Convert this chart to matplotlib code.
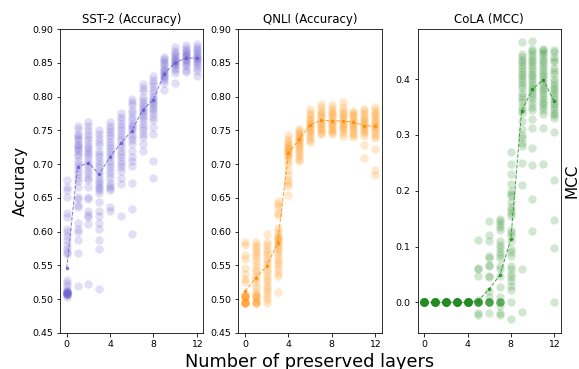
#Imports
import matplotlib
matplotlib.use('Agg')
import matplotlib.pyplot as plt

#Data

layers = [0, 1, 2, 3, 4, 5, 6, 7, 8, 9, 10, 11, 12]

# SST-2 accuracy of every run, one list per number of preserved layers
sst2_runs = [
    [0.677, 0.666, 0.662, 0.651, 0.627, 0.621, 0.604, 0.599, 0.594, 0.588, 0.580, 0.575, 0.570, 0.567,
     0.528, 0.524, 0.519, 0.514, 0.512, 0.511, 0.510, 0.510, 0.509, 0.509, 0.508, 0.508, 0.508, 0.507, 0.506, 0.504],
    [0.756, 0.752, 0.745, 0.742, 0.738, 0.735, 0.730, 0.728, 0.725, 0.722, 0.720, 0.715, 0.712, 0.705, 0.700,
     0.695, 0.690, 0.685, 0.680, 0.675, 0.666, 0.652, 0.648, 0.640, 0.636, 0.613, 0.604, 0.600, 0.588, 0.569, 0.519],
    [0.762, 0.757, 0.750, 0.745, 0.740, 0.735, 0.730, 0.725, 0.722, 0.718, 0.715, 0.710, 0.705, 0.700,
     0.695, 0.690, 0.685, 0.680, 0.676, 0.666, 0.651, 0.649, 0.630, 0.625, 0.621, 0.611, 0.522],
    [0.750, 0.745, 0.738, 0.733, 0.728, 0.720, 0.715, 0.710, 0.705, 0.700, 0.695, 0.690, 0.685, 0.680,
     0.675, 0.672, 0.668, 0.665, 0.662, 0.657, 0.644, 0.630, 0.623, 0.613, 0.604, 0.588, 0.575, 0.515],
    [0.762, 0.757, 0.752, 0.748, 0.743, 0.738, 0.733, 0.728, 0.724, 0.720, 0.715, 0.710, 0.705, 0.700,
     0.695, 0.690, 0.685, 0.680, 0.672, 0.668, 0.665, 0.662, 0.636, 0.630],
    [0.775, 0.770, 0.765, 0.760, 0.755, 0.750, 0.745, 0.740, 0.735, 0.730, 0.725, 0.720, 0.715, 0.710,
     0.705, 0.700, 0.695, 0.690, 0.680, 0.670, 0.623],
    [0.797, 0.792, 0.787, 0.780, 0.775, 0.770, 0.765, 0.760, 0.757, 0.753, 0.750, 0.745, 0.740, 0.735,
     0.730, 0.720, 0.710, 0.705, 0.697, 0.672, 0.634, 0.597],
    [0.818, 0.813, 0.808, 0.800, 0.795, 0.790, 0.787, 0.783, 0.780, 0.777, 0.773, 0.770, 0.765, 0.760,
     0.755, 0.750, 0.745, 0.740, 0.730, 0.720],
    [0.830, 0.825, 0.820, 0.815, 0.810, 0.805, 0.800, 0.797, 0.793, 0.790, 0.787, 0.783, 0.780, 0.775,
     0.770, 0.765, 0.755, 0.745, 0.704, 0.680],
    [0.858, 0.855, 0.852, 0.849, 0.846, 0.843, 0.840, 0.838, 0.835, 0.832, 0.830, 0.827, 0.824, 0.820, 0.810],
    [0.873, 0.868, 0.864, 0.861, 0.858, 0.856, 0.854, 0.852, 0.850, 0.848, 0.846, 0.843, 0.840, 0.835, 0.820],
    [0.876, 0.872, 0.869, 0.866, 0.864, 0.862, 0.860, 0.858, 0.856, 0.854, 0.851, 0.848, 0.845, 0.840, 0.837],
    [0.878, 0.874, 0.870, 0.867, 0.864, 0.861, 0.859, 0.857, 0.855, 0.852, 0.850, 0.847, 0.843, 0.838, 0.830],
]
sst2_mean = [0.546, 0.696, 0.702, 0.685, 0.711, 0.731, 0.749, 0.780, 0.795, 0.834, 0.850, 0.857, 0.857]

# QNLI accuracy
qnli_runs = [
    [0.584, 0.580, 0.565, 0.560, 0.546, 0.537, 0.530, 0.525, 0.507, 0.505, 0.505, 0.505, 0.504, 0.503,
     0.497, 0.495, 0.495, 0.495, 0.494, 0.494],
    [0.585, 0.580, 0.576, 0.572, 0.567, 0.562, 0.556, 0.550, 0.545, 0.540, 0.535, 0.530, 0.524, 0.518,
     0.512, 0.508, 0.505, 0.505, 0.502, 0.498, 0.495, 0.495, 0.494],
    [0.596, 0.585, 0.580, 0.575, 0.570, 0.565, 0.560, 0.555, 0.550, 0.545, 0.540, 0.535, 0.530, 0.525,
     0.520, 0.515, 0.510, 0.505, 0.500, 0.495],
    [0.645, 0.641, 0.637, 0.627, 0.624, 0.606, 0.601, 0.595, 0.592, 0.590, 0.588, 0.585, 0.582, 0.578,
     0.575, 0.570, 0.565, 0.560, 0.555, 0.550, 0.545, 0.539, 0.535, 0.510],
    [0.743, 0.737, 0.733, 0.730, 0.727, 0.724, 0.722, 0.720, 0.718, 0.715, 0.712, 0.710, 0.705, 0.700,
     0.692, 0.684, 0.676, 0.672, 0.668, 0.654],
    [0.752, 0.749, 0.746, 0.743, 0.740, 0.737, 0.735, 0.733, 0.730, 0.727, 0.724, 0.720, 0.716, 0.712, 0.708, 0.705],
    [0.782, 0.776, 0.772, 0.768, 0.765, 0.762, 0.759, 0.756, 0.753, 0.750, 0.747, 0.744, 0.740, 0.736, 0.733],
    [0.789, 0.784, 0.779, 0.775, 0.772, 0.769, 0.766, 0.763, 0.760, 0.757, 0.754, 0.750, 0.746, 0.744],
    [0.788, 0.783, 0.779, 0.775, 0.772, 0.769, 0.766, 0.763, 0.760, 0.757, 0.754, 0.750, 0.747, 0.745],
    [0.792, 0.785, 0.780, 0.776, 0.772, 0.769, 0.766, 0.763, 0.760, 0.757, 0.754, 0.750, 0.746, 0.742],
    [0.778, 0.775, 0.772, 0.769, 0.766, 0.763, 0.760, 0.757, 0.754, 0.750, 0.746, 0.743, 0.740],
    [0.782, 0.778, 0.774, 0.770, 0.767, 0.764, 0.761, 0.758, 0.755, 0.752, 0.749, 0.746, 0.742, 0.728, 0.709],
    [0.785, 0.780, 0.776, 0.772, 0.769, 0.766, 0.763, 0.760, 0.757, 0.754, 0.750, 0.746, 0.742, 0.738,
     0.722, 0.692, 0.684],
]
qnli_mean = [0.512, 0.532, 0.549, 0.583, 0.716, 0.737, 0.758, 0.765, 0.764, 0.764, 0.762, 0.757, 0.756]

# CoLA MCC
cola_runs = [
    [0.0] * 20,
    [0.0] * 20,
    [0.0] * 20,
    [0.0] * 20,
    [0.0] * 20,
    [0.111, 0.062, 0.060, 0.047, 0.005, 0.0, 0.0, 0.0, 0.0, 0.0, 0.0, 0.0, 0.0, 0.0, -0.020, -0.023],
    [0.145, 0.120, 0.110, 0.083, 0.080, 0.067, 0.065, 0.048, 0.045, 0.020, 0.010, 0.0, 0.0, 0.0, 0.0,
     0.0, 0.0, 0.0, -0.020],
    [0.150, 0.145, 0.140, 0.135, 0.130, 0.110, 0.103, 0.098, 0.090, 0.085, 0.080, 0.065, 0.060, 0.048,
     0.028, 0.010, 0.0, 0.0, 0.0, 0.0, 0.0, -0.007, -0.020, -0.022],
    [0.270, 0.248, 0.230, 0.212, 0.200, 0.195, 0.190, 0.180, 0.170, 0.165, 0.160, 0.155, 0.130, 0.125,
     0.118, 0.110, 0.095, 0.090, 0.083, 0.065, 0.060, 0.050, 0.045, 0.038, 0.030, 0.022, 0.0, -0.030],
    [0.466, 0.445, 0.440, 0.435, 0.430, 0.425, 0.420, 0.415, 0.410, 0.405, 0.400, 0.395, 0.390, 0.385,
     0.375, 0.370, 0.365, 0.360, 0.350, 0.345, 0.340, 0.325, 0.310, 0.300, 0.295, 0.285, 0.280, 0.250,
     0.210, 0.060, -0.018],
    [0.469, 0.455, 0.450, 0.445, 0.440, 0.435, 0.430, 0.425, 0.420, 0.415, 0.410, 0.405, 0.400, 0.395,
     0.390, 0.385, 0.380, 0.375, 0.370, 0.364, 0.358, 0.350, 0.344, 0.329, 0.313, 0.277, 0.247, 0.185, 0.127],
    [0.455, 0.452, 0.448, 0.445, 0.440, 0.435, 0.430, 0.425, 0.420, 0.415, 0.410, 0.405, 0.400, 0.395,
     0.390, 0.385, 0.380, 0.375, 0.370, 0.365, 0.360, 0.355, 0.350, 0.345, 0.337, 0.313, 0.248],
    [0.452, 0.448, 0.440, 0.435, 0.430, 0.420, 0.415, 0.410, 0.400, 0.395, 0.390, 0.385, 0.380, 0.375,
     0.370, 0.365, 0.360, 0.355, 0.350, 0.345, 0.340, 0.335, 0.330, 0.305, 0.220, 0.147, 0.098, 0.0],
]
cola_mean = [0.0, 0.0, 0.0, 0.0, 0.0, 0.003, 0.024, 0.049, 0.113, 0.343, 0.382, 0.399, 0.361]

### PLOTTING

fig = plt.figure(figsize=(579 / 72, 369 / 72), dpi=72)

ax1 = fig.add_axes([0.1036, 0.0976, 0.2477, 0.8238])
ax2 = fig.add_axes([0.4116, 0.0976, 0.2477, 0.8238])
ax3 = fig.add_axes([0.7214, 0.0976, 0.2470, 0.8238])

panels = [
    (ax1, sst2_runs, sst2_mean, 'slateblue', 'SST-2 (Accuracy)'),
    (ax2, qnli_runs, qnli_mean, 'darkorange', 'QNLI (Accuracy)'),
    (ax3, cola_runs, cola_mean, 'forestgreen', 'CoLA (MCC)'),
]

for ax, runs, mean, color, title in panels:
    for layer, vals in zip(layers, runs):
        ax.scatter([layer] * len(vals), vals, s=70, color=color, alpha=0.2, linewidths=0)
    ax.plot(layers, mean, linestyle='--', marker='o', markersize=2.5, color=color,
            linewidth=1, alpha=0.8)
    ax.set_title(title, fontsize=11.7)
    ax.set_xlim(-0.62, 12.62)
    ax.set_xticks([0, 4, 8, 12])
    ax.tick_params(labelsize=9.4)

for ax in [ax1, ax2]:
    ax.set_ylim(0.45, 0.90)
    ax.set_yticks([0.45, 0.50, 0.55, 0.60, 0.65, 0.70, 0.75, 0.80, 0.85, 0.90])
    ax.set_yticklabels(['0.45', '0.50', '0.55', '0.60', '0.65', '0.70', '0.75', '0.80', '0.85', '0.90'])

ax3.set_ylim(-0.055, 0.49)
ax3.set_yticks([0.0, 0.1, 0.2, 0.3, 0.4])

ax1.set_ylabel('Accuracy', fontsize=15.3)
ax2.set_xlabel('Number of preserved layers', fontsize=17.8)
ax3.yaxis.set_label_position('right')
ax3.set_ylabel('MCC', fontsize=15.3)

fig.savefig('out.png', dpi=72)
